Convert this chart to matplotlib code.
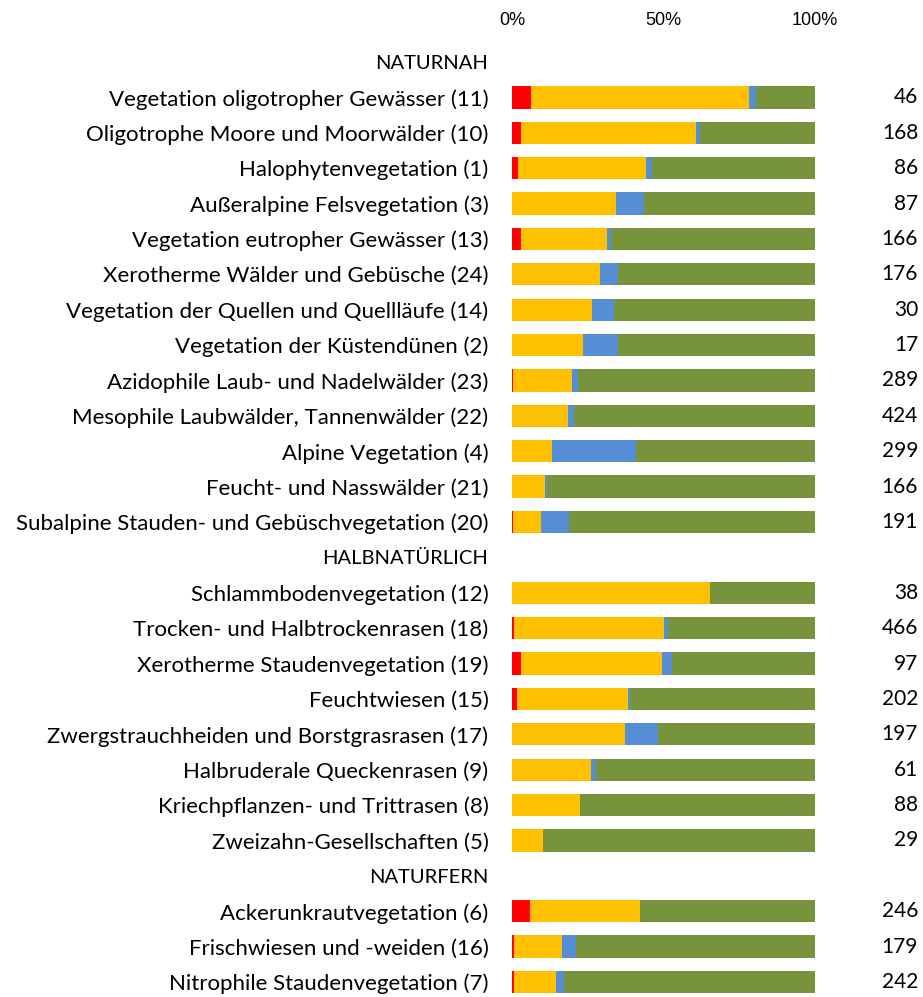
import numpy as np
import matplotlib
matplotlib.use("Agg")
import matplotlib.pyplot as plt
import matplotlib.transforms as mtransforms

# rows from top to bottom; group headers have no bar
labels = [
    "NATURNAH",
    "Vegetation oligotropher Gewässer (11)",
    "Oligotrophe Moore und Moorwälder (10)",
    "Halophytenvegetation (1)",
    "Außeralpine Felsvegetation (3)",
    "Vegetation eutropher Gewässer (13)",
    "Xerotherme Wälder und Gebüsche (24)",
    "Vegetation der Quellen und Quellläufe (14)",
    "Vegetation der Küstendünen (2)",
    "Azidophile Laub- und Nadelwälder (23)",
    "Mesophile Laubwälder, Tannenwälder (22)",
    "Alpine Vegetation (4)",
    "Feucht- und Nasswälder (21)",
    "Subalpine Stauden- und Gebüschvegetation (20)",
    "HALBNATÜRLICH",
    "Schlammbodenvegetation (12)",
    "Trocken- und Halbtrockenrasen (18)",
    "Xerotherme Staudenvegetation (19)",
    "Feuchtwiesen (15)",
    "Zwergstrauchheiden und Borstgrasrasen (17)",
    "Halbruderale Queckenrasen (9)",
    "Kriechpflanzen- und Trittrasen (8)",
    "Zweizahn-Gesellschaften (5)",
    "NATURFERN",
    "Ackerunkrautvegetation (6)",
    "Frischwiesen und -weiden (16)",
    "Nitrophile Staudenvegetation (7)",
]
headers = ["NATURNAH", "HALBNATÜRLICH", "NATURFERN"]

# percentages (header rows = 0)
red = [0, 6.4, 2.9, 2.0, 0, 2.9, 0, 0, 0, 0.3, 0, 0, 0, 0.3,
       0, 0, 0.8, 2.9, 1.7, 0, 0, 0, 0,
       0, 5.9, 0.8, 0.8]
yellow = [0, 71.9, 57.8, 42.2, 34.2, 28.6, 29.0, 26.5, 23.3, 19.5, 18.5, 13.3, 10.9, 9.4,
          0, 65.5, 49.5, 46.6, 36.6, 37.4, 26.2, 22.6, 10.1,
          0, 36.3, 15.7, 13.7]
blue = [0, 2.1, 1.2, 2.0, 9.3, 1.1, 6.0, 7.1, 11.7, 1.9, 2.1, 27.7, 0.5, 9.2,
        0, 0, 1.1, 3.2, 0.8, 10.9, 1.5, 0, 0,
        0, 0, 4.5, 2.8]
counts = ["", "46", "168", "86", "87", "166", "176", "30", "17", "289", "424", "299", "166", "191",
          "", "38", "466", "97", "202", "197", "61", "88", "29",
          "", "246", "179", "242"]

red = np.array(red)
yellow = np.array(yellow)
blue = np.array(blue)
is_bar = np.array([l not in headers for l in labels])
green = np.where(is_bar, 100 - red - yellow - blue, 0)

fig = plt.figure(figsize=(9.23, 9.97), dpi=100)
ax = fig.add_axes([512 / 923, 1 - 992.6 / 997, 303 / 923, (992.6 - 44.3) / 997])

y = np.arange(len(labels))
h = 0.63
left = np.zeros(len(labels))
for vals, col in [(red, "#FF0000"), (yellow, "#FFC000"), (blue, "#558ED5"), (green, "#77933C")]:
    ax.barh(y, vals, left=left, height=h, color=col, edgecolor="none")
    left = left + vals

ax.set_xlim(0, 100)
ax.set_ylim(26.3, -0.5)
ax.xaxis.tick_top()
ax.set_xticks([0, 50, 100])
ax.set_xticklabels(["0%", "50%", "100%"], family="Liberation Sans", fontsize=13)
ax.tick_params(axis="x", length=0, pad=11)
ax.set_yticks(y)
ax.set_yticklabels(labels, family="Lato", fontsize=16)
ax.tick_params(axis="y", length=0, pad=17)
for lab in ax.get_yticklabels():
    if lab.get_text() in headers:
        lab.set_fontsize(14.5)
for s in ax.spines.values():
    s.set_visible(False)

trans = mtransforms.blended_transform_factory(ax.transAxes, ax.transData)
for i, c in enumerate(counts):
    ax.text(1.34, i, c, transform=trans, ha="right", va="center", family="Lato", fontsize=15)

fig.savefig("out.png", dpi=100)
